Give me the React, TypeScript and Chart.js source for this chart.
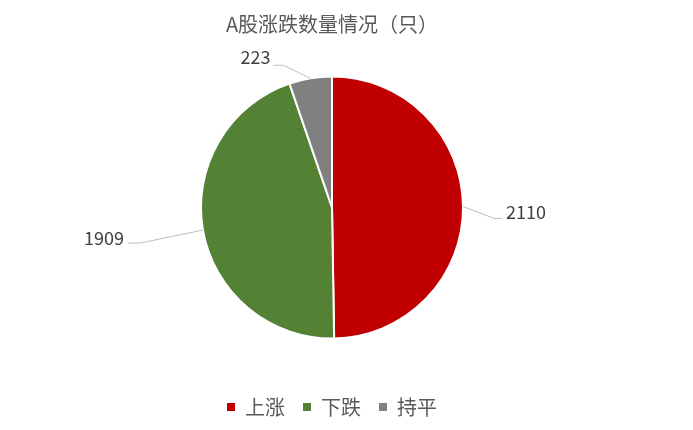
import React, { useEffect, useRef } from 'react';
import { Chart, registerables } from 'chart.js';

Chart.register(...registerables);

const titleText = 'A股涨跌数量情况（只）';
const categories = ['上涨', '下跌', '持平'];
const values = [2110, 1909, 223];
const colors = ['#C00000', '#548235', '#808080'];

const FONT = "'Noto Sans CJK SC', 'Noto Sans', sans-serif";

// leader-line layout per slice (offsets from the slice's edge point at its mid-angle)
const leaderLayout = [
  { dx: 31, dy: 12, h: 8, tdx: 4, tdy: -6, align: 'left' as CanvasTextAlign },
  { dx: -63, dy: 13, h: -12, tdx: -4, tdy: -5, align: 'right' as CanvasTextAlign },
  { dx: -27, dy: -13, h: -10, tdx: -3, tdy: -8, align: 'right' as CanvasTextAlign },
];

const leaderPlugin = {
  id: 'leaderLabels',
  afterDatasetsDraw(chart: any) {
    const meta = chart.getDatasetMeta(0);
    const ctx = chart.ctx as CanvasRenderingContext2D;
    ctx.save();
    meta.data.forEach((arc: any, i: number) => {
      const p = arc.getProps(['x', 'y', 'startAngle', 'endAngle', 'outerRadius'], true);
      const mid = (p.startAngle + p.endAngle) / 2;
      const ax = p.x + Math.cos(mid) * p.outerRadius;
      const ay = p.y + Math.sin(mid) * p.outerRadius;
      const L = leaderLayout[i];
      const ex = ax + L.dx;
      const ey = ay + L.dy;
      const hx = ex + L.h;
      ctx.beginPath();
      ctx.strokeStyle = '#BFBFBF';
      ctx.lineWidth = 1;
      ctx.moveTo(ax, ay);
      ctx.lineTo(ex, ey);
      ctx.lineTo(hx, ey);
      ctx.stroke();
      ctx.fillStyle = '#404040';
      ctx.font = `18px ${FONT}`;
      ctx.textAlign = L.align;
      ctx.textBaseline = 'middle';
      ctx.fillText(String(values[i]), hx + L.tdx, ey + L.tdy);
    });
    ctx.restore();
  },
};

export default function App() {
  const ref = useRef<HTMLCanvasElement>(null);
  useEffect(() => {
    Chart.defaults.font.family = FONT;
    const chart = new Chart(ref.current!, {
      type: 'pie',
      data: {
        labels: categories,
        datasets: [
          {
            data: values,
            backgroundColor: colors,
            borderColor: '#FFFFFF',
            borderWidth: 2,
          },
        ],
      },
      options: {
        animation: false,
        responsive: true,
        maintainAspectRatio: false,
        radius: 131,
        layout: { padding: { left: 0, right: 29, top: 0, bottom: 3 } },
        plugins: {
          title: {
            display: true,
            text: titleText,
            color: '#595959',
            font: { size: 20, weight: 'normal', family: FONT },
            padding: { top: 12, bottom: 0 },
          },
          legend: {
            display: true,
            position: 'bottom',
            labels: {
              boxWidth: 8,
              boxHeight: 8,
              padding: 18,
              color: '#595959',
              font: { size: 20, family: FONT },
              generateLabels: () =>
                categories.map((c, i) => ({
                  text: c,
                  fillStyle: colors[i],
                  strokeStyle: colors[i],
                  lineWidth: 0,
                  hidden: false,
                  index: i,
                  fontColor: '#595959',
                })),
            },
          },
          tooltip: { enabled: false },
        },
      },
      plugins: [leaderPlugin],
    });
    return () => chart.destroy();
  }, []);
  return (
    <div style={{ position: 'absolute', left: 0, top: 0, width: 693, height: 430, background: '#FFFFFF' }}>
      <canvas ref={ref} />
    </div>
  );
}
